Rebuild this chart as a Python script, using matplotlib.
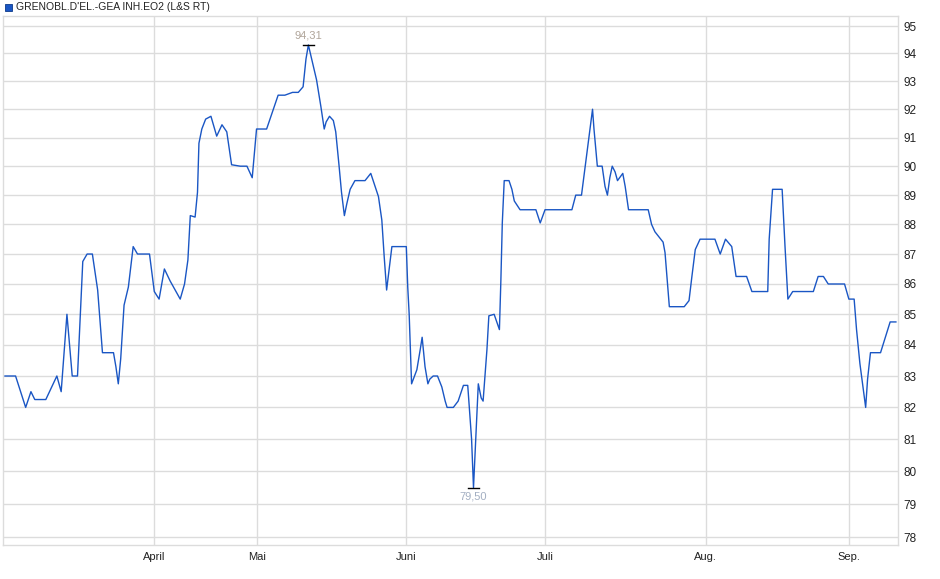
import matplotlib.pyplot as plt
from matplotlib.ticker import FixedLocator, NullLocator, NullFormatter

# trading days since start (approx.) and price
days = [0.0, 2.2, 4.3, 5.4, 6.2, 8.5, 10.8, 11.7, 12.9, 14.0, 15.1, 16.2, 17.1, 18.2,
        19.3, 20.3, 22.6, 23.1, 23.6, 24.1, 24.8, 25.7, 26.7, 27.6, 30.1, 31.1, 32.1,
        33.2, 34.4, 36.5, 37.4, 38.1, 38.6, 39.6, 40.1, 40.4, 41.0, 41.8, 42.9, 44.1,
        45.2, 46.2, 47.2, 49.0, 50.4, 51.5, 52.4, 54.5, 55.9, 56.9, 58.3, 59.9, 61.1,
        62.1, 62.7, 63.2, 64.9, 65.8, 66.5, 66.9, 67.6, 68.4, 68.9, 69.6, 70.1, 70.7,
        71.2, 71.9, 72.9, 75.0, 76.2, 76.7, 77.8, 78.5, 79.0, 79.5, 80.1, 80.6, 83.6,
        83.9, 84.2, 84.4, 84.7, 85.8, 86.5, 86.9, 87.5, 88.1, 88.5, 89.2, 90.1, 91.0,
        91.7, 92.1, 93.4, 94.4, 95.5, 96.4, 96.9, 97.2, 97.6, 98.6, 99.2, 99.6, 100.0,
        100.4, 100.8, 101.9, 103.0, 103.3, 103.6, 104.0, 105.0, 105.6, 106.1, 107.3,
        110.6, 111.5, 112.5, 118.1, 118.9, 120.1, 120.8, 121.7, 122.4, 122.7, 123.4,
        124.4, 125.0, 125.5, 126.0, 126.5, 127.1, 127.6, 128.7, 129.2, 129.9, 134.0,
        134.7, 135.4, 137.1, 137.5, 137.9, 138.4, 141.5, 142.5, 143.1, 143.8, 144.8,
        147.9, 149.0, 150.1, 151.4, 152.3, 154.5, 155.6, 158.9, 159.2, 159.9, 161.9,
        162.5, 163.1, 164.1, 168.4, 169.4, 170.5, 171.5, 174.9, 175.8, 176.9, 177.4,
        178.1, 179.3, 179.7, 180.3, 182.4, 184.4, 185.6]
price = [83.0, 83.0, 82.0, 82.5, 82.25, 82.25, 83.0, 82.5, 85.0, 83.0, 83.0, 86.75, 87.0, 87.0,
         85.8, 83.75, 83.75, 83.3, 82.75, 83.55, 85.3, 85.9, 87.25, 87.0, 87.0, 85.75, 85.5,
         86.5, 86.1, 85.5, 86.0, 86.8, 88.3, 88.25, 89.1, 90.8, 91.3, 91.65, 91.75, 91.05,
         91.45, 91.2, 90.05, 90.0, 90.0, 89.6, 91.3, 91.3, 92.0, 92.5, 92.5, 92.6, 92.6,
         92.8, 93.8, 94.31, 93.05, 92.1, 91.3, 91.55, 91.75, 91.6, 91.2, 90.0, 89.1, 88.3,
         88.7, 89.2, 89.5, 89.5, 89.75, 89.5, 88.95, 88.15, 86.9, 85.8, 86.6, 87.25, 87.25,
         85.9, 85.0, 84.05, 82.75, 83.2, 83.85, 84.25, 83.3, 82.75, 82.9, 83.0, 83.0, 82.65,
         82.2, 82.0, 82.0, 82.2, 82.7, 82.7, 81.65, 81.0, 79.5, 82.75, 82.3, 82.2, 83.0,
         83.85, 84.95, 85.0, 84.5, 86.1, 88.05, 89.5, 89.5, 89.2, 88.8, 88.5,
         88.5, 88.05, 88.5, 88.5, 89.0, 89.0, 89.9, 91.05, 92.0, 91.3, 90.0,
         90.0, 89.3, 89.0, 89.6, 90.0, 89.8, 89.5, 89.75, 89.3, 88.5, 88.5,
         88.0, 87.75, 87.4, 87.05, 86.25, 85.25, 85.25, 85.45, 86.25, 87.15, 87.5,
         87.5, 87.0, 87.5, 87.25, 86.25, 86.25, 85.75, 85.75, 87.5, 89.2, 89.2,
         87.25, 85.5, 85.75, 85.75, 86.25, 86.25, 86.0, 86.0, 85.5, 85.5, 84.5,
         83.4, 82.0, 82.9, 83.75, 83.75, 84.75, 84.75]

month_pos = [31.1, 52.6, 83.6, 112.6, 146.0, 175.9]
month_names = ['April', 'Mai', 'Juni', 'Juli', 'Aug.', 'Sep.']
yticks = list(range(78, 96))
title = "GRENOBL.D'EL.-GEA INH.EO2 (L&S RT)"

plt.rcParams['font.family'] = ['Liberation Sans', 'DejaVu Sans']

fig = plt.figure(figsize=(9.4, 5.79), dpi=100)
ax = fig.add_axes([3 / 940, 34 / 579, 895.3 / 940, 529 / 579])

line_col = '#1a56c4'
grid_col = '#dcdcdc'

ax.plot(days, price, color=line_col, lw=1.0, zorder=3)

ax.set_yscale('log')
ax.set_ylim(77.76, 95.37)
ax.set_xlim(-0.42, 186.1)

ax.yaxis.set_major_locator(FixedLocator(yticks))
ax.yaxis.set_minor_locator(NullLocator())
ax.yaxis.set_minor_formatter(NullFormatter())
ax.set_yticklabels([str(v) for v in yticks])
ax.yaxis.tick_right()
ax.set_xticks(month_pos)
ax.set_xticklabels(month_names)

ax.tick_params(axis='both', length=0, labelsize=8, colors='#222222')
ax.tick_params(axis='y', pad=4, labelsize=8.5)
ax.tick_params(axis='x', pad=5)
ax.grid(True, color=grid_col, lw=1.0)
ax.set_axisbelow(True)
for sp in ax.spines.values():
    sp.set_color(grid_col)
    sp.set_linewidth(1.0)

# high / low markers
i_hi = price.index(max(price))
i_lo = price.index(min(price))
ax.plot([days[i_hi] - 1.2, days[i_hi] + 1.2], [price[i_hi]] * 2, color='black', lw=1.0, zorder=4)
ax.plot([days[i_lo] - 1.2, days[i_lo] + 1.2], [price[i_lo]] * 2, color='black', lw=1.0, zorder=4)
ax.annotate(f"{price[i_hi]:.2f}".replace('.', ','), (days[i_hi], price[i_hi]),
            xytext=(0, 3), textcoords='offset points', ha='center', va='bottom',
            fontsize=8, color='#b0a59a')
ax.annotate(f"{price[i_lo]:.2f}".replace('.', ','), (days[i_lo], price[i_lo]),
            xytext=(0, -3), textcoords='offset points', ha='center', va='top',
            fontsize=8, color='#a3afc2')

# legend at the top left
fig.patches.append(plt.Rectangle((5 / 940, 1 - 11 / 579), 7 / 940, 7 / 579,
                                 transform=fig.transFigure, facecolor=line_col,
                                 edgecolor='#0d3a8a', lw=0.6))
fig.text(16 / 940, 1 - 7.5 / 579, title, fontsize=7.5, va='center', ha='left', color='#222222')

fig.savefig('out.png', dpi=100)
